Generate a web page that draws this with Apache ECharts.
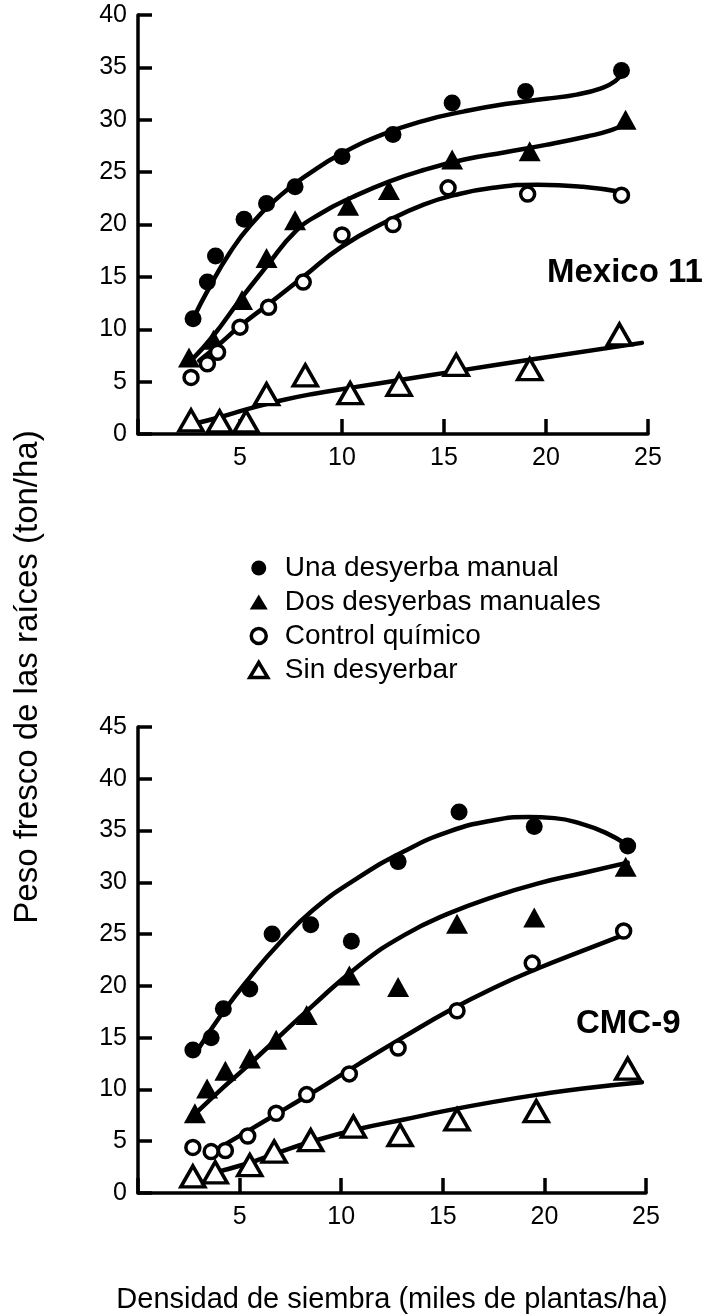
<!DOCTYPE html>
<html><head><meta charset="utf-8">
<script src="https://cdn.jsdelivr.net/npm/echarts@6/dist/echarts.min.js"></script>
<style>html,body{margin:0;padding:0;background:#fff}#c{width:707px;height:1315px}</style>
</head><body><div id="c"></div>
<script>
const seriesNames = ['Una desyerba manual', 'Dos desyerbas manuales', 'Control químico', 'Sin desyerbar'];
const panelLabels = ['Mexico 11', 'CMC-9'];
const xTitle = 'Densidad de siembra (miles de plantas/ha)';
const yTitle = 'Peso fresco de las raíces (ton/ha)';
const topYMax = 40, bottomYMax = 45, xMax = 25, tickStep = 5;

// Mexico 11 observed points [density, weight]
const mxUna  = [[2.7,11.0],[3.4,14.5],[3.8,17.0],[5.2,20.5],[6.3,22.0],[7.7,23.6],[10.0,26.5],[12.5,28.6],[15.4,31.6],[19.0,32.7],[23.7,34.7]];
const mxDos  = [[2.5,7.3],[3.7,9.0],[5.1,12.8],[6.3,16.8],[7.7,20.4],[10.3,21.8],[12.3,23.3],[15.4,26.2],[19.2,27.0],[23.9,30.0]];
const mxCtrl = [[2.6,5.4],[3.4,6.7],[3.9,7.8],[5.0,10.2],[6.4,12.1],[8.1,14.5],[10.0,19.0],[12.5,20.0],[15.2,23.5],[19.1,22.9],[23.7,22.8]];
const mxSin  = [[2.6,1.3],[4.0,1.2],[5.3,1.2],[6.3,3.8],[8.2,5.6],[10.4,3.9],[12.8,4.7],[15.6,6.6],[19.2,6.2],[23.6,9.5]];
// Mexico 11 fitted curves
const mxUnaFit  = [[2.7,11.0],[3.5,14.0],[4.5,17.3],[5.5,19.9],[7,22.8],[8.5,25.0],[10,26.8],[12,28.6],[14,29.9],[16,30.8],[18,31.5],[20,32.0],[21.5,32.4],[22.7,33.0],[23.4,33.7],[23.8,34.6]];
const mxDosFit  = [[2.6,7.0],[3.7,9.4],[5.0,12.8],[6.3,16.0],[7.7,19.3],[9.0,21.1],[10.5,22.6],[12.3,24.1],[14,25.2],[16,26.2],[18,26.9],[20,27.6],[22,28.4],[23.2,29.0],[24,29.7]];
const mxCtrlFit = [[3.0,7.0],[4,8.6],[5,10.3],[6.4,12.4],[8.1,15.0],[10,17.9],[12.3,20.4],[14,21.9],[15.5,22.8],[17.4,23.5],[19.6,23.8],[21.8,23.6],[23.7,23.1]];
const mxSinFit  = [[2.8,1.0],[4,1.6],[5.4,2.4],[7,3.2],[8.5,3.8],[10.7,4.5],[13,5.2],[15.6,6.0],[19.6,7.2],[24.7,8.7]];

// CMC-9 observed points
const cmUna  = [[2.7,13.8],[3.6,15.0],[4.2,17.8],[5.5,19.7],[6.6,25.0],[8.5,25.9],[10.5,24.3],[12.8,32.0],[15.8,36.8],[19.5,35.4],[24.1,33.5]];
const cmDos  = [[2.8,7.7],[3.4,10.1],[4.3,11.8],[5.5,13.0],[6.8,14.8],[8.3,17.2],[10.4,21.0],[12.8,19.9],[15.7,26.0],[19.5,26.6],[24.0,31.5]];
const cmCtrl = [[2.7,4.4],[3.6,4.0],[4.3,4.1],[5.4,5.5],[6.8,7.7],[8.3,9.5],[10.4,11.5],[12.8,14.0],[15.7,17.6],[19.4,22.2],[23.9,25.3]];
const cmSin  = [[2.7,1.6],[3.8,2.0],[5.5,2.7],[6.7,4.0],[8.5,5.1],[10.6,6.4],[12.9,5.6],[15.7,7.1],[19.6,7.9],[24.1,12.0]];
// CMC-9 fitted curves
const cmUnaFit  = [[3.0,14.0],[4.2,17.5],[5.5,20.8],[6.9,24.0],[8.6,27.3],[10.8,30.4],[13.1,33.0],[15.3,34.9],[17.5,36.0],[19.2,36.3],[20.5,36.2],[21.9,35.6],[23,34.8],[24.1,33.6]];
const cmDosFit  = [[2.9,7.8],[4.2,10.2],[5.3,12.1],[6.4,14.1],[8.6,18.1],[10.9,22.0],[13.1,24.9],[15.3,27.0],[17.5,28.6],[19.7,29.9],[21.9,30.9],[24.1,31.9]];
const cmCtrlFit = [[3.6,3.9],[5.5,6.1],[7.3,8.2],[9.1,10.3],[10.9,12.5],[13.1,15.1],[15.3,17.6],[17.5,19.8],[19.7,21.7],[21.9,23.4],[24.0,25.0]];
const cmSinFit  = [[3.6,1.9],[5.3,2.8],[6.9,3.9],[8.6,5.0],[10.9,6.2],[13.1,7.1],[15.3,8.0],[17.5,8.8],[19.7,9.5],[21.9,10.1],[24.8,10.7]];

const FONT = 'Liberation Sans, Arial, Helvetica, sans-serif';
const BLACK = '#000';

const markerStyles = [
  { symbol: 'circle', symbolSize: 17, itemStyle: { color: BLACK, opacity: 1 } },
  { symbol: 'triangle', symbolSize: [22, 20], itemStyle: { color: BLACK, opacity: 1 } },
  { symbol: 'circle', symbolSize: 14, itemStyle: { color: '#fff', borderColor: BLACK, borderWidth: 3.5, opacity: 1 } },
  { symbol: 'triangle', symbolSize: [24, 21], itemStyle: { color: '#fff', borderColor: BLACK, borderWidth: 3.5, opacity: 1 } }
];
const legendIcons = [
  { icon: 'circle', itemStyle: { color: BLACK, borderWidth: 0 } },
  { icon: 'triangle', itemStyle: { color: BLACK, borderWidth: 0 } },
  { icon: 'circle', itemStyle: { color: '#fff', borderColor: BLACK, borderWidth: 3.5 } },
  { icon: 'triangle', itemStyle: { color: '#fff', borderColor: BLACK, borderWidth: 3.5 } }
];

function xAxisCfg(gridIndex, extra) {
  return Object.assign({
    type: 'value', gridIndex, min: 0, max: xMax, interval: tickStep,
    axisLine: { show: true, lineStyle: { color: BLACK, width: 3.5 } },
    axisTick: { show: true, inside: true, length: 15, lineStyle: { color: BLACK, width: 3.5 } },
    axisLabel: { color: BLACK, fontSize: 25, fontFamily: FONT, margin: 12, formatter: v => v === 0 ? '' : String(v) },
    splitLine: { show: false }
  }, extra || {});
}
function yAxisCfg(gridIndex, max) {
  return {
    type: 'value', gridIndex, min: 0, max, interval: tickStep,
    axisLine: { show: true, lineStyle: { color: BLACK, width: 3.5 } },
    axisTick: { show: true, inside: true, length: 14, lineStyle: { color: BLACK, width: 3.5 } },
    axisLabel: { color: BLACK, fontSize: 25, fontFamily: FONT, margin: 11 },
    splitLine: { show: false }
  };
}

const panels = [
  { obs: [mxUna, mxDos, mxCtrl, mxSin], fit: [mxUnaFit, mxDosFit, mxCtrlFit, mxSinFit] },
  { obs: [cmUna, cmDos, cmCtrl, cmSin], fit: [cmUnaFit, cmDosFit, cmCtrlFit, cmSinFit] }
];

const series = [];
panels.forEach((p, gi) => {
  p.fit.forEach((d, i) => {
    series.push({
      type: 'line', name: 'fit' + gi + i, xAxisIndex: gi, yAxisIndex: gi, data: d,
      smooth: 0.5, showSymbol: false, symbol: 'none', z: 2, silent: true,
      lineStyle: { color: BLACK, width: 4.5, cap: 'round', join: 'round' }
    });
  });
  p.obs.forEach((d, i) => {
    series.push(Object.assign({
      type: 'scatter', name: seriesNames[i], xAxisIndex: gi, yAxisIndex: gi, data: d, z: 3
    }, JSON.parse(JSON.stringify(markerStyles[i]))));
  });
});

const chart = echarts.init(document.getElementById('c'), null, { renderer: 'canvas' });
chart.setOption({
  animation: false,
  backgroundColor: '#fff',
  textStyle: { fontFamily: FONT, color: BLACK },
  grid: [
    { left: 138, top: 15, width: 510, height: 419 },
    { left: 138, top: 727, width: 508, height: 478 }
  ],
  xAxis: [
    xAxisCfg(0),
    xAxisCfg(1, { name: xTitle, nameLocation: 'middle', nameGap: 92,
      nameTextStyle: { color: BLACK, fontSize: 29, fontFamily: FONT } })
  ],
  yAxis: [yAxisCfg(0, topYMax), yAxisCfg(1, bottomYMax)],
  legend: {
    orient: 'vertical', left: 243, top: 549,
    itemWidth: 18, itemHeight: 15, itemGap: 6,
    textStyle: { color: BLACK, fontSize: 28, lineHeight: 27, fontFamily: FONT, padding: [0, 0, 0, 12] },
    data: seriesNames.map((n, i) => Object.assign({ name: n }, legendIcons[i]))
  },
  graphic: [
    { type: 'text', x: 28, y: 677, rotation: Math.PI / 2,
      style: { text: yTitle, font: '33px ' + FONT, fill: BLACK, align: 'center', verticalAlign: 'middle', textAlign: 'center', textVerticalAlign: 'middle' } },
    { type: 'text', x: 547, y: 273,
      style: { text: panelLabels[0], font: 'bold 33px ' + FONT, fill: BLACK, align: 'left', verticalAlign: 'middle', textVerticalAlign: 'middle' } },
    { type: 'text', x: 576, y: 1024,
      style: { text: panelLabels[1], font: 'bold 33px ' + FONT, fill: BLACK, align: 'left', verticalAlign: 'middle', textVerticalAlign: 'middle' } }
  ],
  series
});
</script></body></html>
